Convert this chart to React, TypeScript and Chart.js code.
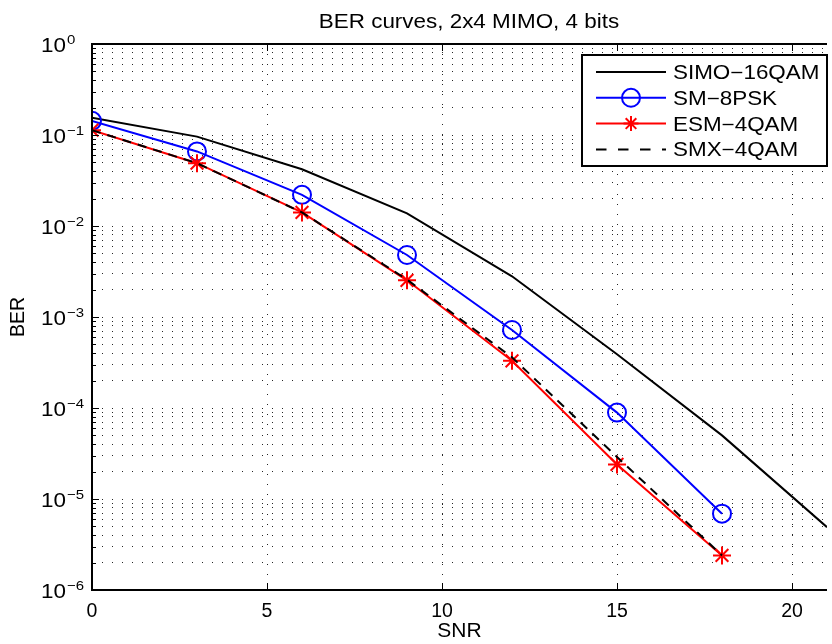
import React, { useEffect, useRef } from 'react';
import { Chart, registerables } from 'chart.js';

Chart.register(...registerables);

// ---- data ----
const snrMain = [0, 3, 6, 9, 12, 15, 18];
const snrSimo = [0, 3, 6, 9, 12, 15, 18, 21];
const berSimo16qam = [0.155, 0.096, 0.042, 0.0138, 0.0028, 0.00039, 0.00005, 0.0000049];
const berSm8psk = [0.143, 0.066, 0.022, 0.0048, 0.00072, 0.000089, 0.0000069];
const berEsm4qam = [0.113, 0.049, 0.0141, 0.00253, 0.00033, 0.000024, 0.0000024];
const berSmx4qam = [0.113, 0.049, 0.0141, 0.00258, 0.00036, 0.000029, 0.0000024];
const seriesNames = ['SIMO\u221216QAM', 'SM\u22128PSK', 'ESM\u22124QAM', 'SMX\u22124QAM'];
const xTicks = [0, 5, 10, 15, 20];
const yExponents = [-6, -5, -4, -3, -2, -1, 0];
const titleText = 'BER curves, 2x4 MIMO, 4 bits';
const xTitle = 'SNR';
const yTitle = 'BER';

const FONT = '"Liberation Sans", Arial, Helvetica, sans-serif';
const SX = 1.15;

const yGridValues: number[] = [];
yExponents.forEach((e) => {
  if (e === 0) {
    yGridValues.push(1);
    return;
  }
  for (let s = 1; s <= 9; s++) yGridValues.push(Number((s * Math.pow(10, e)).toPrecision(3)));
});

const toXY = (xs: number[], ys: number[]) => xs.map((x, i) => ({ x, y: ys[i] }));

function drawStretched(ctx: CanvasRenderingContext2D, text: string, x: number, y: number, size: number, align: CanvasTextAlign) {
  ctx.save();
  ctx.font = `${size}px ${FONT}`;
  ctx.textAlign = align;
  ctx.textBaseline = 'alphabetic';
  ctx.translate(x, y);
  ctx.scale(SX, 1);
  ctx.fillText(text, 0, 0);
  ctx.restore();
}

const decorPlugin = {
  id: 'decor',
  afterDraw(chart: any) {
    const { ctx, chartArea, scales } = chart;
    const { left, right, top, bottom } = chartArea;
    const xs = scales.x;
    const ys = scales.y;
    ctx.save();
    ctx.fillStyle = '#000';
    ctx.strokeStyle = '#000';

    // inward tick marks
    ctx.lineWidth = 1;
    ctx.beginPath();
    yGridValues.forEach((v) => {
      const py = Math.round(ys.getPixelForValue(v)) + 0.5;
      const major = Math.abs(Math.log10(v) - Math.round(Math.log10(v))) < 1e-9;
      const len = major ? 7 : 4;
      ctx.moveTo(left, py);
      ctx.lineTo(left + len, py);
    });
    xTicks.forEach((v) => {
      const px = Math.round(xs.getPixelForValue(v)) + 0.5;
      ctx.moveTo(px, bottom);
      ctx.lineTo(px, bottom - 7);
      ctx.moveTo(px, top);
      ctx.lineTo(px, top + 7);
    });
    ctx.stroke();

    // frame
    ctx.lineWidth = 2;
    ctx.beginPath();
    ctx.moveTo(right, top);
    ctx.lineTo(left, top);
    ctx.lineTo(left, bottom);
    ctx.lineTo(right, bottom);
    ctx.stroke();

    // y tick labels 10^e
    yExponents.forEach((e) => {
      const py = ys.getPixelForValue(Math.pow(10, e));
      ctx.font = `19.5px ${FONT}`;
      const w = ctx.measureText('10').width * SX;
      drawStretched(ctx, '10', 41, py + 8, 19.5, 'left');
      const expText = e === 0 ? '0' : '\u2212' + String(-e);
      drawStretched(ctx, expText, 41 + w + 1, py + 0.3, 13, 'left');
    });

    // title
    drawStretched(ctx, titleText, 469, 27.5, 19.5, 'center');

    // legend
    const bx = 582, by = 55, bw = 245, bh = 111;
    ctx.fillStyle = '#fff';
    ctx.fillRect(bx, by, bw, bh);
    ctx.strokeStyle = '#000';
    ctx.lineWidth = 2;
    ctx.strokeRect(bx, by, bw, bh);
    chart.data.datasets.forEach((ds: any, i: number) => {
      const ry = 72 + 25.8 * i;
      ctx.save();
      ctx.strokeStyle = ds.borderColor;
      ctx.lineWidth = 2;
      ctx.setLineDash(ds.borderDash ? [10.5, 11.5] : []);
      ctx.beginPath();
      ctx.moveTo(596, ry);
      ctx.lineTo(666, ry);
      ctx.stroke();
      ctx.setLineDash([]);
      if (ds.pointStyle === 'circle') {
        ctx.beginPath();
        ctx.arc(631, ry, 9, 0, Math.PI * 2);
        ctx.stroke();
      } else if (ds.pointStyle === 'star') {
        const r = 7.5;
        ctx.beginPath();
        for (let k = 0; k < 4; k++) {
          const a = (k * Math.PI) / 4;
          ctx.moveTo(631 + Math.sin(a) * r, ry - Math.cos(a) * r);
          ctx.lineTo(631 - Math.sin(a) * r, ry + Math.cos(a) * r);
        }
        ctx.stroke();
      }
      ctx.restore();
      ctx.fillStyle = '#000';
      drawStretched(ctx, ds.label, 673, ry + 7, 19.5, 'left');
    });
    ctx.restore();
  },
};

export default function App() {
  const ref = useRef<HTMLCanvasElement>(null);
  useEffect(() => {
    const canvas = ref.current;
    if (!canvas) return;
    const gridColor = 'rgba(0,0,0,0.85)';
    const chart = new Chart(canvas, {
      type: 'line',
      data: {
        datasets: [
          {
            label: seriesNames[0],
            data: toXY(snrSimo, berSimo16qam),
            borderColor: '#000000',
            backgroundColor: '#000000',
            borderWidth: 2,
            pointRadius: 0,
            pointHoverRadius: 0,
            fill: false,
            order: 4,
          },
          {
            label: seriesNames[1],
            data: toXY(snrMain, berSm8psk),
            borderColor: '#0000ff',
            backgroundColor: '#0000ff',
            borderWidth: 2,
            pointStyle: 'circle',
            pointRadius: 9,
            pointHoverRadius: 9,
            pointBorderWidth: 2,
            pointBorderColor: '#0000ff',
            pointBackgroundColor: 'rgba(0,0,0,0)',
            fill: false,
            order: 3,
          },
          {
            label: seriesNames[2],
            data: toXY(snrMain, berEsm4qam),
            borderColor: '#ff0000',
            backgroundColor: '#ff0000',
            borderWidth: 2,
            pointStyle: 'star',
            pointRadius: 9,
            pointHoverRadius: 9,
            pointBorderWidth: 2,
            pointBorderColor: '#ff0000',
            pointBackgroundColor: 'rgba(0,0,0,0)',
            fill: false,
            order: 2,
          },
          {
            label: seriesNames[3],
            data: toXY(snrMain, berSmx4qam),
            borderColor: '#000000',
            backgroundColor: '#000000',
            borderWidth: 2,
            borderDash: [9, 7],
            pointRadius: 0,
            pointHoverRadius: 0,
            fill: false,
            order: 1,
          },
        ],
      },
      options: {
        responsive: false,
        animation: false,
        devicePixelRatio: 1,
        layout: { padding: { left: 0, top: 44, right: 1, bottom: 0 } },
        plugins: {
          legend: { display: false },
          title: { display: false },
          tooltip: { enabled: false },
        },
        events: [],
        scales: {
          x: {
            type: 'linear',
            min: 0,
            max: 21,
            afterBuildTicks: (s: any) => {
              s.ticks = xTicks.map((v) => ({ value: v }));
            },
            afterFit: (s: any) => {
              s.height = 54;
            },
            grid: { color: gridColor, lineWidth: 1, drawTicks: false },
            border: { display: false, dash: [1, 9] },
            ticks: {
              color: '#000',
              font: { family: FONT, size: 19.5 },
              padding: 10,
              maxRotation: 0,
              autoSkip: false,
            },
            title: {
              display: true,
              text: xTitle,
              color: '#000',
              font: { family: FONT, size: 21 },
              padding: { top: 0, bottom: 0 },
            },
          },
          y: {
            type: 'logarithmic',
            min: 1e-6,
            max: 1,
            afterBuildTicks: (s: any) => {
              s.ticks = yGridValues.map((v) => ({ value: v }));
            },
            afterFit: (s: any) => {
              s.width = 92;
            },
            grid: { color: gridColor, lineWidth: 1, drawTicks: false },
            border: { display: false, dash: [1, 9] },
            ticks: { display: false },
            title: {
              display: true,
              text: yTitle,
              color: '#000',
              font: { family: FONT, size: 19.5 },
              padding: { top: 7, bottom: 0 },
            },
          },
        },
      } as any,
      plugins: [decorPlugin],
    });
    return () => chart.destroy();
  }, []);
  return (
    <div
      style={{
        position: 'absolute',
        left: 0,
        top: 0,
        width: 832,
        height: 644,
        overflow: 'hidden',
        background: '#fff',
      }}
    >
      <canvas ref={ref} width={838} height={644} style={{ display: 'block', width: 838, height: 644 }} />
    </div>
  );
}
